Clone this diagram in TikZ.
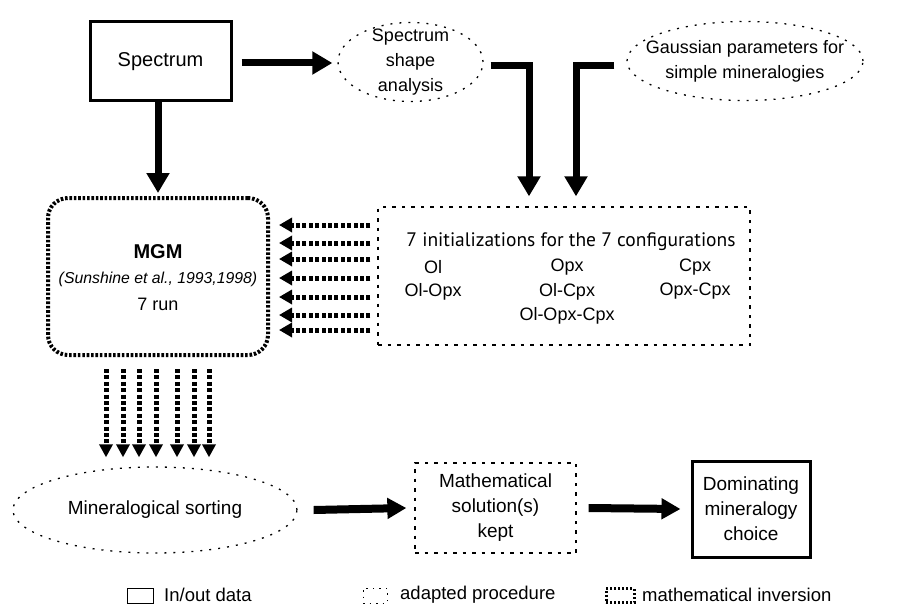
\documentclass[tikz,border=0pt]{standalone}
\usepackage{fontspec}
\setmainfont{Liberation Sans}
\newfontfamily\titlefont{PT Sans}
\usetikzlibrary{shapes.geometric,arrows.meta,calc}
\begin{document}
\begin{tikzpicture}[x=1pt,y=-1pt,
  txt/.style={font=\fontsize{18}{25}\selectfont, align=center, inner sep=0pt},
  btxt/.style={font=\fontsize{19}{25}\selectfont, align=center, inner sep=0pt},
  iobox/.style={draw, line width=3pt, inner sep=0pt},
  procell/.style={draw, ellipse, line width=1.3pt, dash pattern=on 2pt off 7pt, inner sep=0pt},
  procbox/.style={draw, line width=1.3pt, dash pattern=on 3.5pt off 6pt, inner sep=0pt},
  invbox/.style={draw, line width=4pt, dash pattern=on 2.6pt off 1.8pt, rounded corners=20pt, inner sep=0pt},
  thickarr/.style={line width=7pt, line join=miter, -{Triangle[length=20pt,width=22pt]}},
  botarr/.style={line width=8pt, -{Triangle[length=19pt,width=20pt]}},
  dotarr/.style={line width=5pt, dash pattern=on 4pt off 2.4pt, -{Triangle[length=13pt,width=14pt]}},
  dnarr/.style={line width=5pt, dash pattern=on 4pt off 2.4pt, -{Triangle[length=13pt,width=13pt]}},
  legtxt/.style={font=\fontsize{18.5}{22}\selectfont, anchor=west, inner sep=0pt}
]
\useasboundingbox (0,0) rectangle (909,607);

% top row
\node[iobox, minimum width=141pt, minimum height=79pt] (spec) at (160.5,61.5) {\fontsize{20}{24}\selectfont Spectrum};
\node[procell, minimum width=145pt, minimum height=79pt] (ssa) at (410.5,62) {};
\node[txt] (ssat) at (ssa.center) {Spectrum\\shape\\analysis};
\node[procell, minimum width=236pt, minimum height=79pt] (gauss) at (745,61) {};
\node[txt] (gausst) at (gauss.center) {Gaussian parameters for\\simple mineralogies};

% init box
\node[procbox, minimum width=372pt, minimum height=138pt] (init) at (564,276) {};
\node[txt, font=\titlefont\fontsize{19.5}{24}\selectfont] (ititle) at (571,242) {7 initializations for the 7 configurations};
\node[txt] (c1) at (433,267) {Ol};
\node[txt] (c2) at (567,267) {Opx};
\node[txt] (c3) at (695,267) {Cpx};
\node[txt] (c4) at (433,291.5) {Ol-Opx};
\node[txt] (c5) at (567,291.5) {Ol-Cpx};
\node[txt] (c6) at (695,291.5) {Opx-Cpx};
\node[txt] (c7) at (567,315.5) {Ol-Opx-Cpx};

% MGM
\node[invbox, minimum width=220pt, minimum height=157pt] (mgm) at (158,276.5) {};
\node[txt, font=\bfseries\fontsize{20}{24}\selectfont] (mgmt) at (158,251.5) {MGM};
\node[txt, font=\itshape\fontsize{15.8}{20}\selectfont] (sun) at (158,279.5) {(Sunshine et al., 1993,1998)};
\node[txt] (run) at (158,304.5) {7 run};

% bottom row
\node[procell, minimum width=284pt, minimum height=86pt] (minsort) at (155,510) {};
\node[btxt] (minsortt) at (minsort.center) {Mineralogical sorting};
\node[procbox, minimum width=161pt, minimum height=90pt] (mathb) at (495.5,508) {};
\node[btxt] (matht) at (mathb.center) {Mathematical\\solution(s)\\kept};
\node[iobox, minimum width=118pt, minimum height=96pt] (dom) at (751,509) {};
\node[btxt] (domt) at (dom.center) {Dominating\\mineralogy\\choice};

% connectors top
\draw[thickarr] ($(spec.east)+(9,1.5)$) -- ($(ssa.west)+(-5,1)$);
\draw[thickarr] (spec.south -| mgm.north) -- ($(mgm.north)+(0,-3)$);
\draw[thickarr] ($(ssa.east)+(7,4)$) -| ($(init.north)+(-35,-10)$);
\draw[thickarr] ($(gauss.west)+(-12,5)$) -| ($(init.north)+(12,-10)$);

% dotted arrows init -> mgm
\coordinate (iw) at ($(init.west)+(-7,0)$);
\coordinate (me) at ($(mgm.east)+(9,0)$);
\foreach \yy in {225,243,259,278,297,315,330}
  \draw[dotarr] (iw |- 0,\yy) -- (me |- 0,\yy);

% dotted arrows mgm -> sorting
\coordinate (ms) at ($(mgm.south)+(0,12)$);
\coordinate (mt) at ($(minsort.north)+(0,-9)$);
\foreach \xx in {106,123,139,156,177,194,209}
  \draw[dnarr] (ms -| \xx,0) -- (mt -| \xx,0);

% bottom arrows
\draw[botarr] ($(minsort.east)+(16,0)$) -- ($(mathb.west)+(-8,0)$);
\draw[botarr] ($(mathb.east)+(12,0)$) -- ($(dom.west)+(-10,0)$);

% legend
\node[draw, line width=1pt, minimum width=26pt, minimum height=15pt, inner sep=0pt] (lg1) at (140,595.5) {};
\node[legtxt] (lg1t) at (164,595) {In/out data};
\node[draw, line width=1pt, dash pattern=on 1.5pt off 5pt, minimum width=24pt, minimum height=15pt, inner sep=0pt] (lg2) at (375,595.5) {};
\node[legtxt] (lg2t) at (400,595) {adapted procedure};
\node[draw, line width=3pt, dash pattern=on 2pt off 2pt, minimum width=28pt, minimum height=14pt, inner sep=0pt] (lg3) at (620,595.5) {};
\node[legtxt] (lg3t) at (642,595) {mathematical inversion};
\end{tikzpicture}
\end{document}
